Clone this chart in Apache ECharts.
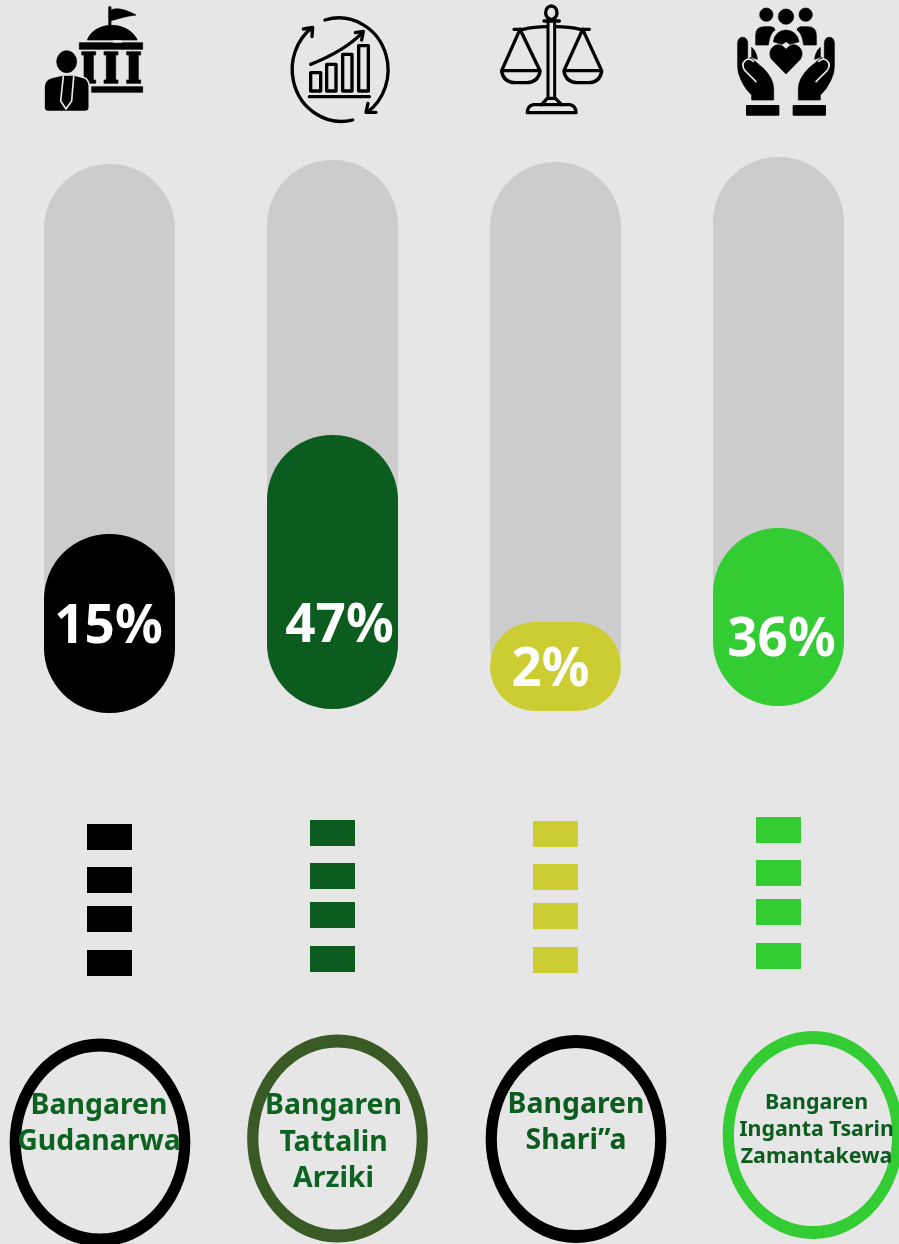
<!DOCTYPE html>
<html>
<head>
<meta charset="utf-8">
<style>
  html, body { margin: 0; padding: 0; background: #e6e6e6; }
  #chart { width: 899px; height: 1244px; }
</style>
<script src="https://cdn.jsdelivr.net/npm/echarts@6/dist/echarts.min.js"></script>
</head>
<body>
<div id="chart"></div>
<script>
const categories = ["Bangaren\nGudanarwa", "Bangaren\nTattalin\nArziki", "Bangaren\nShari”a", "Bangaren\nInganta Tsarin\nZamantakewa"];
const percentLabels = ["15%", "47%", "2%", "36%"];
const fillLevels = [32.6, 49.9, 16.2, 32.4];
const trackLevels = [100, 100, 100, 100];
const dashLevels = [13, 56, 95, 139];
const barColors = ["#000000", "#0d5c1f", "#cccc33", "#33cc33"];
const ringColors = ["#000000", "#3a5a25", "#000000", "#33cc33"];
const nameColors = ["#0c6320", "#0c6320", "#0d5c1f", "#0d5c1f"];

// layout only
const columnLeft = [44, 267, 490, 713];
const trackTop = [164, 160, 162, 157];
const dashTop = [824, 820, 821, 817];
const labelOffset = [[-1, 4.5], [7, 55], [-5, 4.5], [3, 24]];
const ringCenter = [[100, 1142.5], [337.5, 1138.5], [576, 1139], [813, 1135]];
const ringText = [[-1, -19, 28.4, 36], [-4, 4, 28.4, 36.5], [0, -16, 28.4, 36], [3.5, -5, 21.4, 27]];

const BG = "#e6e6e6";
const solid = (d, fill) => ({
  type: "path",
  shape: { pathData: d },
  style: { fill: fill || "#000", stroke: fill || "#000", lineWidth: 2, lineJoin: "round" },
});
const line = (d, width, color) => ({
  type: "path",
  shape: { pathData: d },
  style: { fill: "none", stroke: color || "#000", lineWidth: width, lineCap: "round", lineJoin: "round" },
});
const column = (x) => `M${x} 155h42v10h-7v75h7v10h-42v-10h7v-75h-7z`;

// icons are traced at 3x, the group scales them back down
const hand = [
  solid("M38 128Q40 112 53 112Q66 112 68 128V180L76 172L115 205Q145 235 146 265V300H80V285Q62 270 48 240Q38 220 38 200Z"),
  line("M93 245L60 212Q47 195 60 182Q72 172 85 184", 5, BG),
  solid("M80 172V142Q95 155 97 178Z"),
  { type: "rect", shape: { x: 63, y: 315, width: 100, height: 32, r: 3 }, style: { fill: "#000" } },
];
const icons = [
  {
    x: 30, y: 0,
    children: [
      solid("M236 20H243V30C262 22 285 28 318 45C290 48 270 55 243 62V78H236Z"),
      solid("M172 120C180 95 210 76 245 76C282 76 310 95 322 120Z"),
      solid("M148 128H338V148H148Z"),
      solid("M250 122H275V127H250Z", BG),
      solid(column(155)), solid(column(222)), solid(column(290)),
      solid("M185 260H338V277H185Z"),
      solid("M80 185A30 33 0 1 0 140 185A30 33 0 1 0 80 185Z"),
      { type: "path", shape: { pathData: "M42 262C42 245 50 236 65 232L98 225H132L160 232C172 236 178 248 178 262V322C178 330 172 335 165 335H55C47 335 42 330 42 322Z" }, style: { fill: "#000", stroke: BG, lineWidth: 5 } },
      line("M100 229L92 303L108 327L125 303L131 229", 5, BG),
    ],
  },
  {
    x: 280, y: 5,
    children: [
      line("M135 45A148 156 0 0 1 262 322", 10),
      line("M218 345A148 156 0 0 1 96 68", 10),
      line("M70 72L98 67L96 95", 10),
      line("M288 322L258 322L264 295", 10),
      line("M92 178C150 155 205 125 245 85", 10),
      line("M226 83L250 79L245 105", 10),
      line("M92 203H122V258H92Z", 10),
      line("M140 178H168V258H140Z", 10),
      line("M188 148H216V258H188Z", 10),
      line("M236 122H265V258H236Z", 10),
      line("M88 275H268", 10),
    ],
  },
  {
    x: 490, y: 0,
    children: [
      line("M167 38A17 20 0 1 1 201 38A17 20 0 1 1 167 38Z", 10),
      line("M162 63H208", 10),
      line("M174 68V293", 9),
      line("M194 68V293", 9),
      line("M72 88H100Q130 80 172 80", 10),
      line("M196 80Q240 80 270 88H298", 10),
      line("M90 88L35 212H150L90 88Z", 10),
      line("M35 215C40 240 55 248 75 248H110C130 248 145 240 150 215", 10),
      line("M278 88L222 212H335L278 88Z", 10),
      line("M222 215C227 240 242 248 262 248H297C317 248 330 240 335 215", 10),
      line("M155 314L172 295H196L215 314", 10),
      line("M112 338Q112 318 130 314H240Q258 318 258 338Z", 10),
    ],
  },
  {
    x: 725, y: 0,
    children: [
      solid("M104 44A20 20 0 1 0 144 44A20 20 0 1 0 104 44Z"),
      solid("M160 50A23 23 0 1 0 206 50A23 23 0 1 0 160 50Z"),
      solid("M222 44A20 20 0 1 0 262 44A20 20 0 1 0 222 44Z"),
      solid("M92 135V105Q92 80 118 80H138Q150 82 150 90Q135 98 130 135Z"),
      solid("M274 135V105Q274 80 248 80H228Q216 82 216 90Q231 98 236 135Z"),
      solid("M145 125Q150 92 183 90Q216 92 222 125L195 133L183 125L171 133Z"),
      solid("M183 222L140 178C125 155 145 130 165 135C175 137 183 148 183 148C183 148 191 137 201 135C221 130 241 155 226 178Z"),
      { type: "group", children: hand },
      { type: "group", x: 366, scaleX: -1, children: hand },
    ],
  },
];

const grids = [];
const xAxes = [];
const yAxes = [];
const series = [];

function addGrid(rect, name, min, max, inverse) {
  grids.push(rect);
  xAxes.push({ type: "category", gridIndex: grids.length - 1, show: false, data: [name] });
  yAxes.push({ type: "value", gridIndex: grids.length - 1, show: false, min, max, inverse: !!inverse });
  return grids.length - 1;
}

categories.forEach((name, i) => {
  // pill track + fill
  const barGrid = addGrid({ left: columnLeft[i], top: trackTop[i], width: 131, height: 549 }, name, 0, 100);
  series.push({
    type: "bar", xAxisIndex: barGrid, yAxisIndex: barGrid, barWidth: 131, barGap: "-100%", silent: true,
    itemStyle: { color: "#cccccc", borderRadius: 65 },
    data: [trackLevels[i]],
  });
  series.push({
    type: "bar", xAxisIndex: barGrid, yAxisIndex: barGrid, barWidth: 131, barGap: "-100%", silent: true,
    itemStyle: { color: barColors[i], borderRadius: 65 },
    label: {
      show: true, position: "inside", offset: labelOffset[i], formatter: percentLabels[i],
      color: "#ffffff", fontFamily: "Noto Sans", fontWeight: "bold", fontSize: 53,
    },
    data: [fillLevels[i]],
  });

  // dashes
  const dashGrid = addGrid({ left: columnLeft[i], top: dashTop[i], width: 131, height: 152 }, name, 0, 152, true);
  series.push({
    type: "scatter", xAxisIndex: dashGrid, yAxisIndex: dashGrid, silent: true,
    symbol: "rect", symbolSize: [45, 26],
    itemStyle: { color: barColors[i], opacity: 1 },
    data: dashLevels.map((v) => [0, v]),
  });

  // ring + name
  const ringGrid = addGrid({ left: ringCenter[i][0] - 80, top: ringCenter[i][1] - 80, width: 160, height: 160 }, name, -1, 1);
  series.push({
    type: "scatter", xAxisIndex: ringGrid, yAxisIndex: ringGrid, silent: true,
    symbol: "circle", symbolSize: [169.5, 195], clip: false,
    itemStyle: { color: "transparent", borderColor: ringColors[i], borderWidth: 12, opacity: 1 },
    label: {
      show: true, position: "inside", formatter: name,
      offset: [ringText[i][0], ringText[i][1]], align: "center",
      color: nameColors[i], fontFamily: "Noto Sans", fontWeight: "bold",
      fontSize: ringText[i][2], lineHeight: ringText[i][3],
    },
    data: [[0, 0]],
  });
});

series.push({
  type: "custom", coordinateSystem: "none", silent: true,
  data: icons.map((_, i) => i),
  renderItem: (params) => {
    const icon = icons[params.dataIndex];
    return { type: "group", x: icon.x, y: icon.y, scaleX: 1 / 3, scaleY: 1 / 3, children: icon.children };
  },
});

const chart = echarts.init(document.getElementById("chart"));
chart.setOption({
  animation: false,
  backgroundColor: BG,
  grid: grids,
  xAxis: xAxes,
  yAxis: yAxes,
  series,
});
</script>
</body>
</html>
